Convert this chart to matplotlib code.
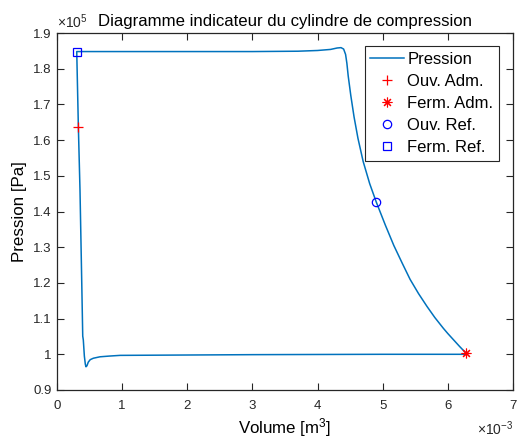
import matplotlib
matplotlib.use('Agg')
import matplotlib.pyplot as plt
from matplotlib.ticker import FuncFormatter

plt.rcParams['font.family'] = ['Liberation Sans', 'DejaVu Sans']
plt.rcParams['mathtext.fontset'] = 'custom'
plt.rcParams['mathtext.rm'] = 'Liberation Sans'
plt.rcParams['mathtext.it'] = 'Liberation Sans'

# volume in 1e-3 m^3, pressure in 1e5 Pa
vol = [6.28, 6.18, 6.10, 6.00, 5.93, 5.80, 5.68, 5.55, 5.42, 5.30, 5.17, 5.04,
       4.90, 4.80, 4.70, 4.62, 4.56, 4.51, 4.47, 4.45, 4.43, 4.40, 4.36, 4.30,
       4.20, 4.00, 3.70, 3.00, 2.00, 1.00,
       0.303, 0.328, 0.353, 0.38, 0.395, 0.404, 0.42, 0.435, 0.445, 0.46,
       0.48, 0.51, 0.558, 0.66, 0.80, 0.97, 2.00, 3.00, 4.00, 5.00, 6.28]
pres = [1.003, 1.022, 1.038, 1.058, 1.073, 1.103, 1.134, 1.170, 1.210, 1.255, 1.305, 1.362,
        1.427, 1.478, 1.540, 1.605, 1.665, 1.725, 1.780, 1.815, 1.840, 1.855, 1.859, 1.858,
        1.854, 1.851, 1.849, 1.848, 1.848, 1.848,
        1.848, 1.637, 1.460, 1.200, 1.051, 1.040, 0.995, 0.972, 0.965, 0.968,
        0.978, 0.985, 0.989, 0.993, 0.995, 0.997, 0.998, 0.999, 0.9995, 1.0, 1.0]

ouv_adm = (0.328, 1.637)
ferm_adm = (6.28, 1.003)
ouv_ref = (4.90, 1.427)
ferm_ref = (0.303, 1.848)

xticks = [0, 1, 2, 3, 4, 5, 6, 7]
yticks = [0.9, 1.0, 1.1, 1.2, 1.3, 1.4, 1.5, 1.6, 1.7, 1.8, 1.9]

fig = plt.figure(figsize=(5.17, 4.41), dpi=100)
ax = fig.add_axes([57/517, 1 - 390/441, (513 - 57)/517, (390 - 33)/441])

blue = (0, 0.447, 0.741)
ax.plot(vol, pres, color=blue, lw=1.1, label='Pression')
ax.plot(*ouv_adm, '+', color='red', ms=7, mew=0.9, ls='none', label='Ouv. Adm.')
# MATLAB style asterisk: 8 spokes (plus and cross)
ax.plot(*ferm_adm, marker=(8, 2, 0), color='red', ms=7, mew=0.8, ls='none', label='Ferm. Adm.')
ax.plot(*ouv_ref, 'o', mfc='none', mec='blue', ms=6, mew=0.9, ls='none', label='Ouv. Ref.')
ax.plot(*ferm_ref, 's', mfc='none', mec='blue', ms=6, mew=0.9, ls='none', label='Ferm. Ref.')

ax.set_xlim(0, 7)
ax.set_ylim(0.9, 1.9)
ax.set_xticks(xticks)
ax.set_yticks(yticks)
ax.xaxis.set_major_formatter(FuncFormatter(lambda v, p: '%g' % v))
ax.yaxis.set_major_formatter(FuncFormatter(lambda v, p: '%g' % round(v, 2)))

dark = '#262626'
for s in ax.spines.values():
    s.set_color(dark)
    s.set_linewidth(0.9)
ax.tick_params(direction='in', length=5, width=0.8, top=True, right=True,
               colors=dark, labelsize=9.5, pad=4)
ax.tick_params(axis='x', pad=7)

ax.set_title('Diagramme indicateur du cylindre de compression', fontsize=12.1, pad=5)
ax.set_xlabel('Volume [m$^3$]', fontsize=12.2, labelpad=3)
ax.set_ylabel('Pression [Pa]', fontsize=12.2, labelpad=4)

ax.text(0.0, 1.006, r'$\times10^{5}$', transform=ax.transAxes, ha='left', va='bottom',
        fontsize=10, color=dark)
ax.text(1.0, -0.126, r'$\times10^{-3}$', transform=ax.transAxes, ha='right', va='baseline',
        fontsize=10, color=dark)

leg = ax.legend(loc='upper right', bbox_to_anchor=(499/517, 1 - 46/441),
                bbox_transform=fig.transFigure, fontsize=12, frameon=True,
                fancybox=False, framealpha=1, edgecolor=dark, handlelength=2.0,
                handletextpad=0.2, labelspacing=0.42, borderpad=0.35, borderaxespad=0)
leg.get_frame().set_linewidth(0.8)

fig.savefig('out.png', dpi=100)
